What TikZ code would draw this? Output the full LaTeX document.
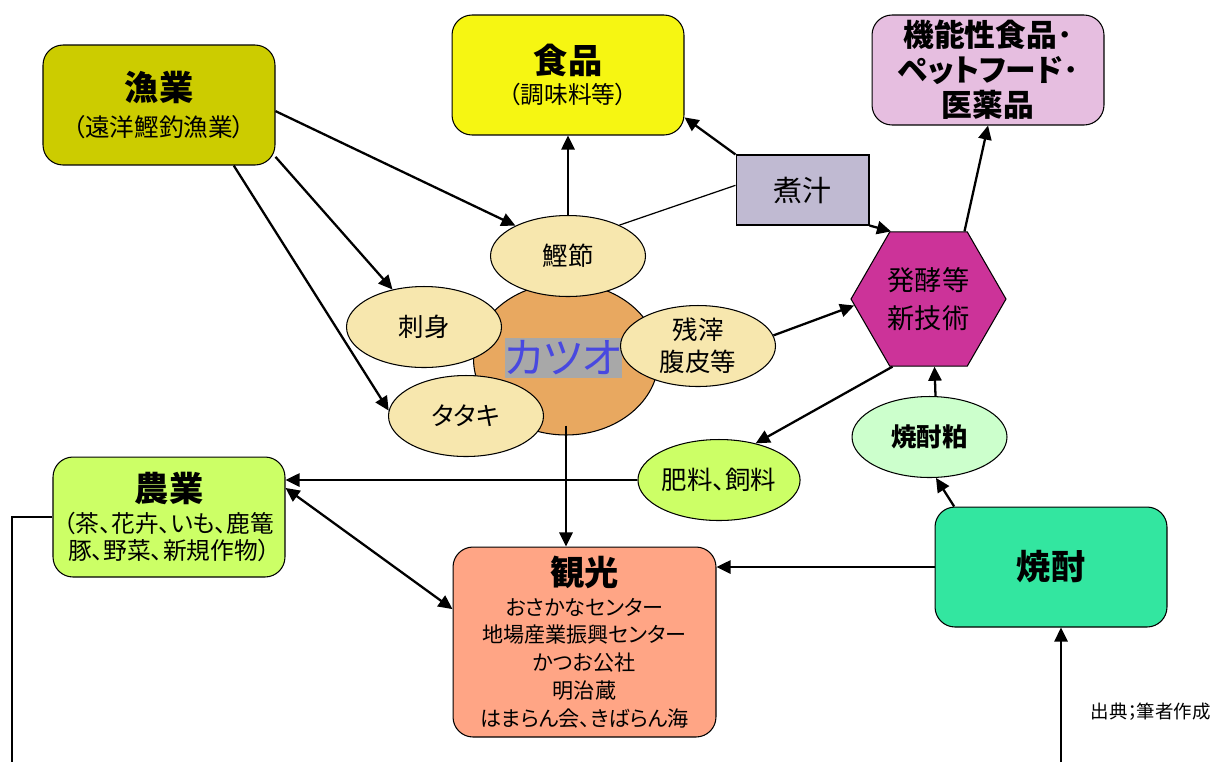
\documentclass[tikz,border=0pt]{standalone}
\usepackage{fontspec}
\setmainfont{Noto Sans CJK JP}[RawFeature=+palt]
\usetikzlibrary{arrows.meta}
\usetikzlibrary{shapes.geometric}

\definecolor{gyogyoc}{HTML}{CCCC00}
\definecolor{shokuhinc}{HTML}{F6F612}
\definecolor{kinouc}{HTML}{E6BEE0}
\definecolor{nijiruc}{HTML}{C0BAD2}
\definecolor{hakkoc}{HTML}{CC3399}
\definecolor{katsuoc}{HTML}{E8A860}
\definecolor{katsuobg}{HTML}{A8A8A8}
\definecolor{katsuotx}{HTML}{4848E0}
\definecolor{ovalc}{HTML}{F7E7AE}
\definecolor{hiryoc}{HTML}{CCFF66}
\definecolor{kasuc}{HTML}{CCFFCC}
\definecolor{kankoc}{HTML}{FFA585}
\definecolor{shochuc}{HTML}{33E6A0}

\tikzset{
  box/.style={draw, rounded corners=0.4cm, align=center, line width=0.6pt,
    minimum width=4.64cm, minimum height=2.4cm, inner sep=1pt},
  oval/.style={draw, ellipse, fill=ovalc, align=center, line width=0.6pt,
    minimum width=3.1cm, minimum height=1.62cm, inner sep=0pt,
    font=\fontsize{14.5}{18}\selectfont},
  arr/.style={-{Triangle[length=8pt,width=7.5pt]}, line width=1.3pt}
}
\newcommand{\ttl}[1]{{\fontsize{19.5}{22}\selectfont\bfseries #1}}

\begin{document}
\begin{tikzpicture}[x=0.02cm,y=-0.02cm]
        \useasboundingbox (0,0) rectangle (1212,762);

        %Boxes
        \node[box, fill=gyogyoc, font=\fontsize{14}{17}\selectfont] (gyogyo) at (159,105) {\ttl{漁業}\\[3pt]（遠洋鰹釣漁業）};
        \node[box, fill=shokuhinc, font=\fontsize{13.5}{17}\selectfont] (shokuhin) at (568,75) {\ttl{食品}\\（調味料等）};
        \node[box, fill=kinouc, minimum height=2.2cm, font=\fontsize{17.5}{20}\selectfont\bfseries] (kinou) at (988,70) {機能性食品･\\ペットフード･\\医薬品};
        \node[draw, fill=nijiruc, line width=0.6pt, minimum width=2.66cm, minimum height=1.4cm, font=\fontsize{16.5}{18}\selectfont] (nijiru) at (802.5,190) {煮汁};
        \node[draw, regular polygon, regular polygon sides=6, minimum size=3.1cm, inner sep=0pt, line width=0.6pt, fill=hakkoc, align=center, font=\fontsize{15.5}{22}\selectfont] (hakko) at (928.5,299) {発酵等\\新技術};

        %Katsuo and its products
        \node[draw, ellipse, fill=katsuoc, line width=0.6pt, minimum width=3.7cm, minimum height=3.04cm] (katsuo) at (566,359) {};
        \node[fill=katsuobg, text=katsuotx, minimum width=2.34cm, minimum height=0.8cm, inner sep=0pt, font=\fontsize{24}{26}\selectfont] (katsuomoji) at (563,358) {カツオ};
        \node[oval] (katsuobushi) at (568,256) {鰹節};
        \node[oval] (sashimi) at (424,327) {刺身};
        \node[oval] (tataki) at (466,416) {タタキ};
        \node[oval] (zanshi) at (698,346) {残滓\\腹皮等};
        \node[oval, fill=hiryoc] (hiryo) at (719,480) {肥料、飼料};
        \node[oval, fill=kasuc, font=\fontsize{14.5}{18}\selectfont\bfseries] (kasu) at (929.5,437) {焼酎粕};

        \node[box, fill=hiryoc, font=\fontsize{13.5}{15.5}\selectfont] (nogyo) at (169,517) {\ttl{農業}\\[2pt]（茶、花卉、いも、鹿篭\\豚、野菜、新規作物）};
        \node[box, fill=kankoc, minimum width=5.26cm, minimum height=3.8cm, font=\fontsize{12}{15.8}\selectfont] (kanko) at (584.5,642) {\ttl{観光}\\[1pt]おさかなセンター\\地場産業振興センター\\かつお公社\\明治蔵\\はまらん会、きばらん海};
        \node[box, fill=shochuc] (shochu) at (1051,567) {\ttl{焼酎}};

        \node[anchor=east, inner sep=0pt, font=\fontsize{10.5}{12}\selectfont] (source) at (1211,712) {出典；筆者作成};

        \coordinate (shochuin) at (1061,762);
        \coordinate (nogyoout) at (12,762);

        %Connectors
        \draw[arr] (gyogyo.-3) -- (katsuobushi.150);
        \draw[arr] (gyogyo.-24) -- (sashimi.130);
        \draw[arr] (gyogyo.-39.4) -- (tataki.176);
        \draw[arr] (katsuobushi) -- (shokuhin);
        \draw[line width=0.7pt] (katsuobushi.31) -- (nijiru.176);
        \draw[arr] (nijiru.north west) -- (shokuhin.-20);
        \draw[arr] (nijiru.south east) -- (hakko.119);
        \draw[arr] (zanshi.8) -- (hakko.185);
        \draw[arr] (hakko.62) -- (kinou.south);
        \draw[arr] (hakko.242) -- (hiryo.45);
        \draw[arr] ([xshift=0.12cm]kasu.north) -- ([xshift=0.12cm]hakko.south);
        \draw[arr] (shochu.148.8) -- (kasu.-81);
        \draw[arr] (hiryo.west) -- (hiryo.west -| nogyo.east);
        \draw[arr] ([yshift=0.2cm]katsuo.south) -- (katsuo.south |- kanko.north);
        \draw[{Triangle[length=8pt,width=7.5pt]}-{Triangle[length=8pt,width=7.5pt]}, line width=1.3pt] (nogyo.14) -- (kanko.166);
        \draw[arr] (shochu.west) -- (shochu.west -| kanko.east);
        \draw[arr] (shochuin) -- (shochuin |- shochu.south);
        \draw[line width=0.7pt] (nogyo.west) -| (nogyoout);

\end{tikzpicture}
\end{document}
